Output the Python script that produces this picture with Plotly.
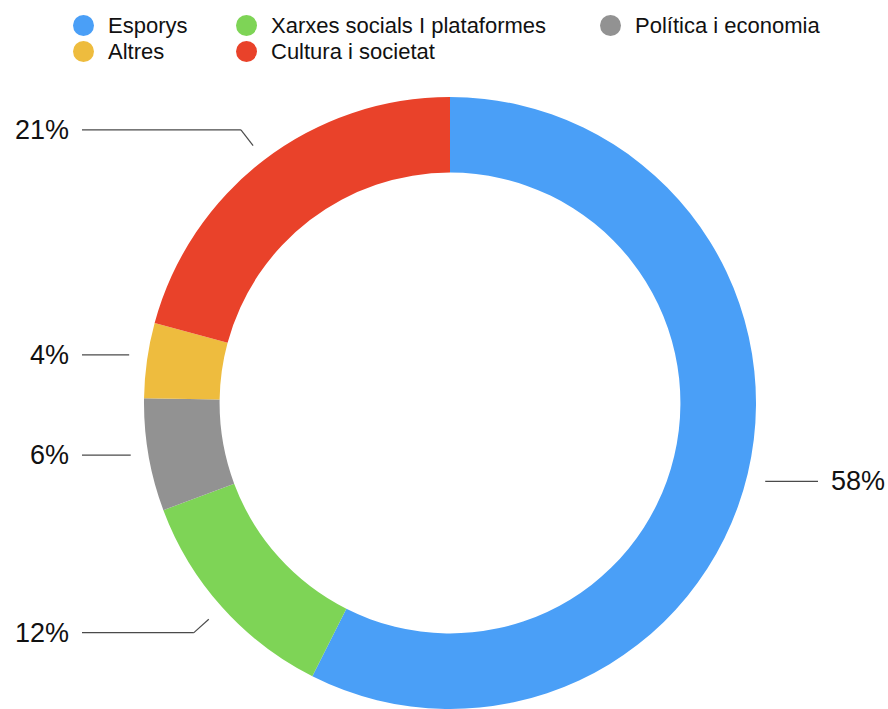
import math
import plotly.graph_objects as go

# Share of content by topic (percent)
categories = ["Esporys", "Xarxes socials I plataformes", "Política i economia", "Altres", "Cultura i societat"]
values = [58, 12, 6, 4, 21]
colors = ["#4A9FF7", "#7ED456", "#929292", "#EEBC3E", "#E9422A"]

W, H = 888, 709
FONT = "Liberation Sans, Arial, Helvetica, sans-serif"

# Donut geometry in pixels
cx, cy, R = 450, 403, 306
hole = 0.753


def px(x):
    return x / W


def py(y):
    return 1 - y / H


fig = go.Figure(
    go.Pie(
        labels=categories,
        values=values,
        marker=dict(colors=colors, line=dict(width=0)),
        hole=hole,
        sort=False,
        direction="clockwise",
        rotation=0,
        textinfo="none",
        hoverinfo="label+value",
        showlegend=False,
        domain=dict(x=[px(cx - R), px(cx + R)], y=[py(cy + R), py(cy - R)]),
    )
)

shapes = []
annotations = []

# Leader lines and percentage labels, placed from each slice's mid-angle
total = sum(values)
cum = 0.0
r_start, r_elbow = 324, 344
left_end, right_end = 82, 818
line_col = "#4a4a4a"
for v in values:
    mid = (cum + v / 2) / total * 2 * math.pi  # clockwise from 12 o'clock
    cum += v
    dx, dy = math.sin(mid), -math.cos(mid)
    x0, y0 = cx + r_start * dx, cy + r_start * dy
    tilt = abs(math.degrees(math.asin(abs(dy))))
    if tilt > 25:
        xe, ye = cx + r_elbow * dx, cy + r_elbow * dy
        shapes.append(dict(type="line", xref="paper", yref="paper",
                           x0=px(x0), y0=py(y0), x1=px(xe), y1=py(ye),
                           line=dict(color=line_col, width=1.2)))
    else:
        # near-horizontal slices: a single straight leader
        ye = y0 + (3.5 if dx > 0 else -3)
        xe = x0
    xend = left_end if dx < 0 else right_end
    shapes.append(dict(type="line", xref="paper", yref="paper",
                       x0=px(xe), y0=py(ye), x1=px(xend), y1=py(ye),
                       line=dict(color=line_col, width=1.2)))
    annotations.append(dict(
        x=px(xend - 11) if dx < 0 else px(xend + 11), y=py(ye),
        xref="paper", yref="paper",
        xanchor="right" if dx < 0 else "left", yanchor="middle",
        text=f"{v}%", showarrow=False,
        font=dict(family=FONT, size=27, color="#111111"),
    ))

# Legend: circular swatches with labels, two rows
legend_order = [0, 1, 2, 3, 4]
col_x = [83.5, 246.5, 610.5]
row_y = [25.5, 51.5]
swatch_r = 10.5
for k, idx in enumerate(legend_order):
    row, col = divmod(k, 3)
    mx, my = col_x[col], row_y[row]
    shapes.append(dict(type="circle", xref="paper", yref="paper",
                       x0=px(mx - swatch_r), x1=px(mx + swatch_r),
                       y0=py(my + swatch_r), y1=py(my - swatch_r),
                       fillcolor=colors[idx], line=dict(width=0)))
    annotations.append(dict(
        x=px(mx + 22), y=py(my), xref="paper", yref="paper",
        xanchor="left", yanchor="middle", text=categories[idx],
        showarrow=False, font=dict(family=FONT, size=22, color="#111111"),
    ))

fig.update_layout(
    width=W, height=H,
    margin=dict(l=0, r=0, t=0, b=0),
    paper_bgcolor="white",
    plot_bgcolor="white",
    shapes=shapes,
    annotations=annotations,
)

fig.write_html("out.html")
